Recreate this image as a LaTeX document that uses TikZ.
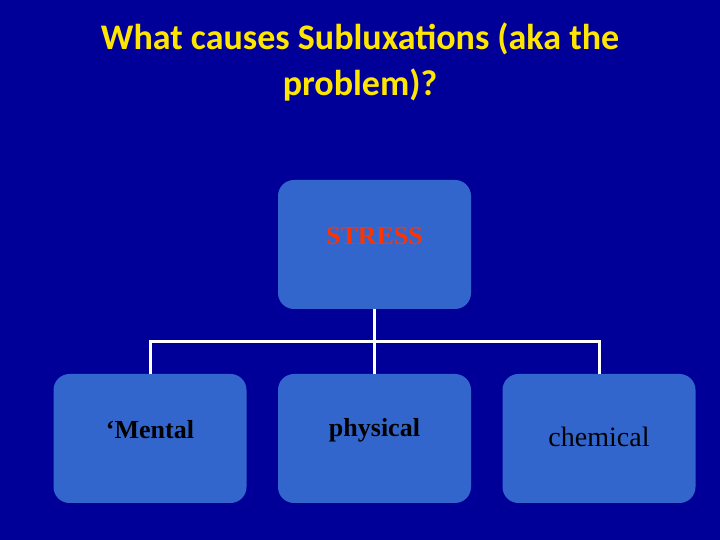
\documentclass[tikz,border=0pt]{standalone}
\usepackage{fontspec}
\setmainfont{Liberation Serif}
\newfontfamily\titlefont{Carlito}
\begin{document}
\begin{tikzpicture}[x=1pt,y=1pt,
  box/.style={fill=boxblue,rounded corners=16pt,minimum width=193pt,minimum height=129pt,inner sep=0pt},
  lbl/.style={font=\fontsize{26}{30}\selectfont\bfseries,text=black},
  conn/.style={draw=white,line width=3pt}]
\definecolor{bg}{HTML}{000099}
\definecolor{boxblue}{HTML}{3366CC}
\definecolor{ttl}{HTML}{FFE600}
\definecolor{stressred}{HTML}{FF3300}
\fill[bg] (0,0) rectangle (720,540);
\useasboundingbox (0,0) rectangle (720,540);
\node[text=ttl,font=\titlefont\fontsize{36}{46}\selectfont\bfseries,align=center] (title) at (360,478) {What causes Subluxations (aka the\\problem)?};
\node[box] (s) at (374.5,295.5) {};
\node[box] (m) at (150,101.5) {};
\node[box] (p) at (374.5,101.5) {};
\node[box] (c) at (599,101.5) {};
\node[lbl,text=stressred] (st) at (374.5,304) {STRESS};
\node[lbl] (mt) at (150,110) {‘Mental};
\node[lbl] (pt) at (374.5,110) {physical};
\node[font=\fontsize{28}{32}\selectfont,text=black] (ct) at (599,103) {chemical};
\coordinate (j) at (374.5,198);
\draw[conn] (s.south) -- (j);
\draw[conn] (m.north) |- (j) -| (c.north);
\draw[conn] (j) -- (p.north);
\end{tikzpicture}
\end{document}
